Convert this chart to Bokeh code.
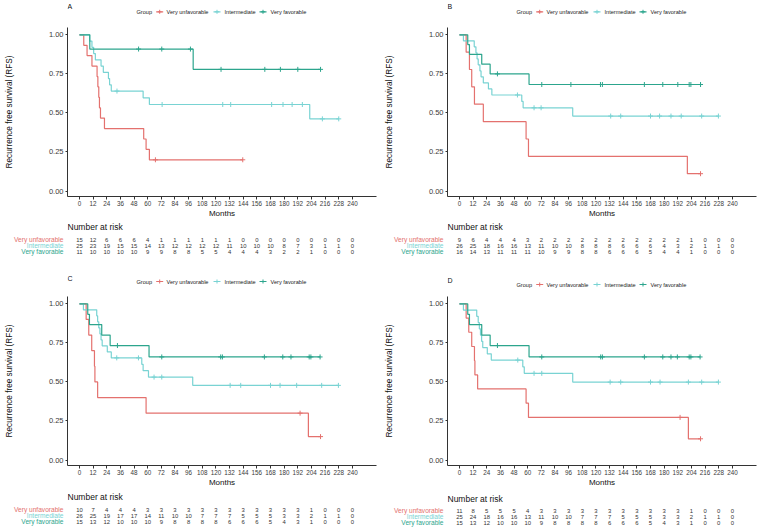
from bokeh.plotting import figure
from bokeh.layouts import column, row
from bokeh.models import Range1d, FixedTicker, NumeralTickFormatter
from bokeh.core.properties import value
from bokeh.embed import file_html
from bokeh.resources import INLINE

FONT = "Liberation Sans"
GROUPS = ["Very unfavorable", "Intermediate", "Very favorable"]
COLORS = ["#E4716E", "#79D3D3", "#2CA58D"]
MONTH_TICKS = list(range(0, 241, 12))
SURV_TICKS = [0.0, 0.25, 0.5, 0.75, 1.0]
X_LIMITS = (-10.5, 261.2)
Y_LIMITS = (-0.035, 1.047)

# ---------------- Panel A ----------------
A_vu_t = [3.8, 6.7, 11.0, 15.5, 16.2, 17.0, 17.6, 18.5, 22.0, 56.5, 58.6, 61.5]
A_vu_s = [0.933, 0.867, 0.800, 0.733, 0.667, 0.600, 0.533, 0.467, 0.400, 0.333, 0.267, 0.200]
A_vu_c = [66.8, 143.6]
A_im_t = [9.0, 11.0, 12.5, 14.0, 19.0, 21.0, 25.5, 26.5, 28.0, 56.0, 61.5, 202.5]
A_im_s = [0.96, 0.92, 0.88, 0.84, 0.80, 0.76, 0.72, 0.68, 0.64, 0.597, 0.554, 0.462]
A_im_c = [33.0, 72.7, 126.0, 133.0, 169.0, 179.0, 187.0, 196.0, 213.6, 228.0]
A_vf_t = [9.1, 100.0]
A_vf_s = [0.909, 0.779]
A_vf_c = [52.0, 72.4, 97.6, 124.5, 163.0, 176.7, 192.0, 212.0]
A_risk_vu = [15, 12, 6, 6, 6, 4, 1, 1, 1, 1, 1, 1, 0, 0, 0, 0, 0, 0, 0, 0, 0]
A_risk_im = [25, 23, 19, 15, 15, 14, 13, 12, 12, 12, 12, 11, 10, 10, 10, 8, 7, 3, 1, 1, 0]
A_risk_vf = [11, 10, 10, 10, 10, 9, 9, 8, 8, 5, 5, 4, 4, 4, 3, 2, 2, 1, 0, 0, 0]

# ---------------- Panel B ----------------
B_vu_t = [5.9, 8.8, 10.8, 13.2, 21.0, 58.6, 60.7, 200.4]
B_vu_s = [0.889, 0.778, 0.667, 0.556, 0.444, 0.333, 0.222, 0.111]
B_vu_c = [212.0]
B_im_t = [3.5, 13.0, 14.5, 15.5, 16.5, 18.0, 19.0, 21.0, 25.5, 28.5, 54.8, 56.0, 99.6]
B_im_s = [0.962, 0.923, 0.885, 0.846, 0.808, 0.769, 0.731, 0.692, 0.654, 0.615, 0.574, 0.533, 0.480]
B_im_c = [51.0, 65.6, 71.8, 133.0, 141.8, 168.0, 176.0, 186.0, 195.0, 213.0, 227.7]
B_vf_t = [7.3, 8.8, 19.6, 27.0, 61.2]
B_vf_s = [0.9375, 0.875, 0.8125, 0.75, 0.682]
B_vf_c = [33.4, 72.4, 98.0, 124.0, 125.7, 162.6, 178.8, 192.0, 202.0, 203.5, 212.0]
B_risk_vu = [9, 6, 4, 4, 4, 3, 2, 2, 2, 2, 2, 2, 2, 2, 2, 2, 2, 1, 0, 0, 0]
B_risk_im = [26, 25, 18, 16, 16, 13, 11, 10, 10, 8, 8, 8, 6, 6, 6, 4, 3, 2, 1, 1, 0]
B_risk_vf = [16, 14, 13, 11, 11, 11, 10, 9, 9, 8, 8, 6, 6, 6, 5, 4, 4, 1, 0, 0, 0]

# ---------------- Panel C ----------------
C_vu_t = [5.9, 8.2, 10.8, 13.2, 13.6, 16.0, 58.6, 201.3]
C_vu_s = [0.9, 0.8, 0.7, 0.6, 0.5, 0.4, 0.3, 0.15]
C_vu_c = [194.0, 212.0]
C_im_t = [3.5, 15.2, 16.0, 17.0, 18.0, 19.0, 20.0, 24.5, 28.0, 54.8, 56.0, 60.7, 99.6]
C_im_s = [0.962, 0.923, 0.885, 0.846, 0.808, 0.769, 0.731, 0.692, 0.654, 0.613, 0.572, 0.531, 0.478]
C_im_c = [32.8, 51.9, 65.6, 72.4, 132.5, 141.8, 168.0, 176.4, 191.0, 213.0, 227.7]
C_vf_t = [7.3, 8.8, 19.6, 27.0, 61.2]
C_vf_s = [0.933, 0.867, 0.80, 0.733, 0.66]
C_vf_c = [33.4, 72.4, 124.2, 125.7, 162.6, 178.8, 186.0, 202.0, 203.5, 211.6]
C_risk_vu = [10, 7, 4, 4, 4, 3, 3, 3, 3, 3, 3, 3, 3, 3, 3, 3, 3, 1, 0, 0, 0]
C_risk_im = [26, 25, 19, 17, 17, 14, 11, 10, 10, 7, 7, 7, 5, 5, 5, 3, 3, 2, 1, 1, 0]
C_risk_vf = [15, 13, 12, 10, 10, 10, 9, 8, 8, 8, 8, 6, 6, 6, 5, 4, 3, 1, 0, 0, 0]

# ---------------- Panel D ----------------
D_vu_t = [5.9, 8.2, 10.8, 13.2, 13.6, 16.0, 58.6, 60.7, 201.3]
D_vu_s = [0.909, 0.818, 0.727, 0.636, 0.545, 0.455, 0.364, 0.273, 0.136]
D_vu_c = [194.0, 212.0]
D_im_t = [3.5, 15.2, 16.5, 17.5, 18.5, 19.5, 20.5, 24.5, 28.0, 55.7, 57.0, 99.6]
D_im_s = [0.96, 0.92, 0.88, 0.84, 0.80, 0.76, 0.72, 0.68, 0.64, 0.597, 0.555, 0.499]
D_im_c = [51.3, 65.6, 72.4, 132.5, 141.8, 168.0, 176.4, 201.3, 213.0, 227.7]
D_vf_t = [7.3, 8.8, 19.6, 27.0, 61.2]
D_vf_s = [0.933, 0.867, 0.80, 0.733, 0.66]
D_vf_c = [33.4, 72.4, 124.2, 125.7, 162.6, 178.8, 186.0, 191.6, 202.0, 203.5, 211.6]
D_risk_vu = [11, 8, 5, 5, 5, 4, 3, 3, 3, 3, 3, 3, 3, 3, 3, 3, 3, 1, 0, 0, 0]
D_risk_im = [25, 24, 18, 16, 16, 13, 11, 10, 10, 7, 7, 7, 5, 5, 5, 3, 3, 2, 1, 1, 0]
D_risk_vf = [15, 13, 12, 10, 10, 10, 9, 8, 8, 8, 8, 6, 6, 6, 5, 4, 3, 1, 0, 0, 0]


def surv_at(t, ev_t, ev_s):
    s = 1.0
    for et, es in zip(ev_t, ev_s):
        if et <= t:
            s = es
    return s


FL, FW = 67, 309


def make_fig(frame_w, frame_h, x_range, y_range, left=0, right=0, bottom=0, axes=False):
    f = figure(frame_width=frame_w, frame_height=frame_h, x_range=x_range, y_range=y_range,
               min_border_left=left, min_border_right=right, min_border_top=0,
               min_border_bottom=bottom,
               x_axis_location="below" if axes else None,
               y_axis_location="left" if axes else None,
               toolbar_location=None, output_backend="svg")
    f.outline_line_color = None
    f.xgrid.visible = False
    f.ygrid.visible = False
    return f


def header(letter, rb, head_h, letter_y, legend_y):
    x0, x1 = X_LIMITS
    ppm = FW / (x1 - x0)
    h = make_fig(FW, head_h, Range1d(x0, x1), Range1d(head_h, 0), left=FL, right=rb)
    h.text(x=[x0], y=[letter_y], text=[letter], text_font=value(FONT), text_font_size="7px",
           text_baseline="middle", text_align="left", text_color="#111111")
    cx = (x0 + x1) / 2.0
    h.text(x=[cx], y=[legend_y], x_offset=-85.5, text=["Group"], text_font=value(FONT),
           text_font_size="5.6px", text_baseline="middle", text_align="left",
           text_color="#222222")
    seg_l = [-65.8, -8.5, 37.5]
    lab_l = [-55.5, 2.5, 48.5]
    h.segment(x0=[cx + a / ppm for a in seg_l], y0=[legend_y] * 3,
              x1=[cx + (a + 7) / ppm for a in seg_l], y1=[legend_y] * 3,
              line_color=COLORS, line_width=1.2)
    h.scatter(x=[cx + (a + 3.5) / ppm for a in seg_l], y=[legend_y] * 3, marker="cross",
              size=4, line_color=COLORS, line_width=1)
    h.text(x=[cx + a / ppm for a in lab_l], y=[legend_y] * 3, text=GROUPS,
           text_font=value(FONT), text_font_size="5.6px", text_baseline="middle",
           text_align="left", text_color="#222222")
    return h


def km(rb, curves):
    k = make_fig(FW, 169, Range1d(*X_LIMITS), Range1d(*Y_LIMITS), left=FL, right=rb,
                 bottom=25, axes=True)
    for (et, es, ct), col in zip(curves, COLORS):
        end = max(max(et), max(ct))
        xs = [0.0] + list(et) + [end]
        ys = [1.0] + list(es) + [es[-1]]
        k.step(xs, ys, mode="after", line_color=col, line_width=1.2)
        cs = [surv_at(t, et, es) for t in ct]
        k.scatter(ct, cs, marker="cross", size=5, line_color=col, line_width=1)

    for ax in (k.xaxis[0], k.yaxis[0]):
        ax.axis_line_color = "#333333"
        ax.axis_line_width = 1
        ax.major_tick_line_color = "#333333"
        ax.major_tick_in = 0
        ax.minor_tick_line_color = None
        ax.major_label_text_font = FONT
        ax.major_label_text_color = "#3a3a3a"
        ax.axis_label_text_font = FONT
        ax.axis_label_text_font_style = "normal"
        ax.axis_label_text_color = "#111111"
    xa = k.xaxis[0]
    xa.ticker = FixedTicker(ticks=MONTH_TICKS)
    xa.major_tick_out = 3
    xa.major_label_standoff = 1
    xa.major_label_text_font_size = "6.3px"
    xa.axis_label = "Months"
    xa.axis_label_text_font_size = "8px"
    xa.axis_label_standoff = 0
    ya = k.yaxis[0]
    ya.ticker = FixedTicker(ticks=SURV_TICKS)
    ya.formatter = NumeralTickFormatter(format="0.00")
    ya.major_tick_out = 2
    ya.major_label_standoff = 2
    ya.major_label_text_font_size = "7.5px"
    ya.axis_label = "Recurrence free survival (RFS)"
    ya.axis_label_text_font_size = "8.2px"
    ya.axis_label_standoff = 32
    return k


def risk(rb, risks, band_h, nar_y, rows_y):
    # group names, right-aligned just left of the plot frame
    lab = make_fig(FL, band_h, Range1d(0, FL), Range1d(band_h, 0))
    lab.text(x=[FL - 4] * 3, y=rows_y, text=GROUPS, text_font=value(FONT),
             text_font_size="6.6px", text_baseline="middle", text_align="right",
             text_color=COLORS)
    # counts at the month ticks, sharing the KM x scale
    x0, x1 = X_LIMITS
    num = make_fig(FW, band_h, Range1d(x0, x1), Range1d(band_h, 0), right=rb)
    num.text(x=[x0], y=[nar_y], text=["Number at risk"], text_font=value(FONT),
             text_font_size="8.5px", text_baseline="middle", text_align="left",
             text_color="#111111")
    for yy, counts in zip(rows_y, risks):
        num.text(x=MONTH_TICKS, y=[yy] * len(MONTH_TICKS), text=[str(c) for c in counts],
                 text_font=value(FONT), text_font_size="5.9px", text_baseline="middle",
                 text_align="center", text_color="#333333")
    return [lab, num]


RB_L, RB_R = 4, 1

band1 = row(header("A", RB_L, 27, 6.0, 11.3), header("B", RB_R, 27, 6.0, 11.3), spacing=0)
band2 = row(km(RB_L, [(A_vu_t, A_vu_s, A_vu_c), (A_im_t, A_im_s, A_im_c), (A_vf_t, A_vf_s, A_vf_c)]),
            km(RB_R, [(B_vu_t, B_vu_s, B_vu_c), (B_im_t, B_im_s, B_im_c), (B_vf_t, B_vf_s, B_vf_c)]),
            spacing=0)
band3 = row(*risk(RB_L, [A_risk_vu, A_risk_im, A_risk_vf], 53, 5.0, [18.0, 24.0, 30.0]),
            *risk(RB_R, [B_risk_vu, B_risk_im, B_risk_vf], 53, 5.0, [18.0, 24.0, 30.0]),
            spacing=0)
band4 = row(header("C", RB_L, 22, 3.8, 7.0), header("D", RB_R, 22, 6.0, 10.0), spacing=0)
band5 = row(km(RB_L, [(C_vu_t, C_vu_s, C_vu_c), (C_im_t, C_im_s, C_im_c), (C_vf_t, C_vf_s, C_vf_c)]),
            km(RB_R, [(D_vu_t, D_vu_s, D_vu_c), (D_im_t, D_im_s, D_im_c), (D_vf_t, D_vf_s, D_vf_c)]),
            spacing=0)
band6 = row(*risk(RB_L, [C_risk_vu, C_risk_im, C_risk_vf], 39, 6.7, [19.0, 25.0, 31.0]),
            *risk(RB_R, [D_risk_vu, D_risk_im, D_risk_vf], 39, 8.0, [20.0, 26.0, 32.0]),
            spacing=0)

layout = column(band1, band2, band3, band4, band5, band6, spacing=0)

with open("out.html", "w") as f:
    f.write(file_html(layout, INLINE))
